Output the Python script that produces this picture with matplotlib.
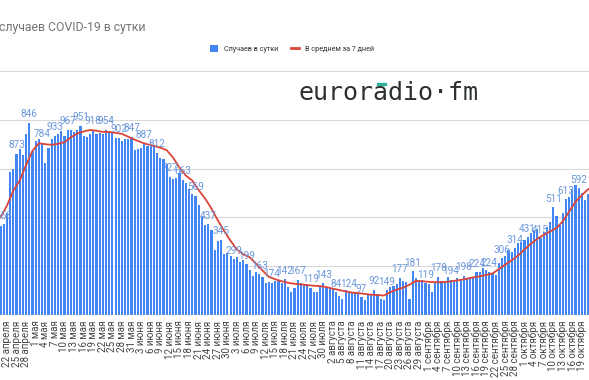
import numpy as np
import pandas as pd
import matplotlib
matplotlib.use("Agg")
import matplotlib.pyplot as plt
from matplotlib.patches import Patch, Rectangle
from matplotlib.lines import Line2D

plt.rcParams['font.family'] = ['Roboto', 'DejaVu Sans']

# daily cases, one value per day starting 20 April
cases = [454, 464, 520, 735, 750, 826, 852, 821, 928, 984,
         841, 893, 903, 882, 780, 857, 903, 918, 928, 943,
         918, 949, 949, 939, 949, 969, 918, 913, 928, 949,
         928, 933, 928, 949, 943, 933, 908, 908, 893, 903,
         903, 913, 846, 852, 857, 877, 867, 867, 867, 831,
         806, 800, 775, 709, 699, 704, 729, 694, 678, 648,
         622, 612, 566, 500, 459, 465, 433, 331, 377, 385,
         311, 316, 301, 286, 296, 270, 280, 260, 230, 199,
         219, 209, 194, 163, 170, 165, 173, 173, 163, 184,
         143, 117, 138, 180, 163, 158, 158, 140, 117, 120,
         143, 163, 140, 138, 133, 117, 97, 82, 128, 115,
         112, 117, 112, 90, 77, 102, 102, 130, 110, 80,
         75, 128, 143, 150, 160, 190, 175, 168, 82, 225,
         189, 168, 178, 163, 158, 117, 168, 195, 172, 168,
         194, 180, 178, 189, 185, 200, 189, 194, 194, 220,
         219, 240, 230, 222, 214, 204, 265, 291, 301, 331,
         321, 342, 367, 372, 385, 398, 418, 430, 439, 393,
         423, 449, 474, 551, 505, 459, 520, 592, 602, 643,
         668, 650, 627, 587, 622]

# 7-day average read every second day
avg_days = np.arange(0, 185, 2)
avg7 = [500, 561, 638, 689, 770, 842, 880, 875, 872, 877,
        885, 910, 930, 940, 948, 944, 938, 938, 933, 928,
        913, 898, 885, 874, 867, 857, 844, 806, 755, 714,
        689, 640, 597, 546, 485, 430, 380, 335, 310, 296,
        262, 228, 195, 183, 173, 165, 160, 157, 153, 150,
        148, 143, 135, 128, 121, 115, 112, 108, 104, 102,
        100, 117, 130, 140, 155, 175, 173, 170, 168, 168,
        170, 175, 180, 186, 193, 198, 205, 213, 235, 258,
        280, 305, 335, 365, 390, 410, 428, 445, 480, 530,
        580, 615, 645]

# data labels shown every 4th day
label_days = list(range(1, 182, 4))
label_text = ['658', '873', '846', '784', '933', '967', '951', '918', '954', '902',
              '847', '887', '812', '727', '663', '569', '437', '345', '299', '199',
              '163', '174', '142', '167', '119', '143', '84', '124', '97', '92',
              '149', '177', '181', '119', '178', '194', '198', '224', '224', '306',
              '314', '431', '415', '511', '613', '592']

months = {4: 'апреля', 5: 'мая', 6: 'июня', 7: 'июля', 8: 'августа',
          9: 'сентября', 10: 'октября'}
dates = pd.date_range('2020-04-20', periods=len(cases))
tick_pos = list(range(2, len(cases), 3))
tick_lab = [f"{dates[i].day} {months[dates[i].month]}" for i in tick_pos]

W, H = 589, 380
fig = plt.figure(figsize=(W / 100, H / 100), dpi=100)
fig.patch.set_facecolor('white')

ymax = 1255
ax_h = ymax * 244 / 1250
ax = fig.add_axes([0, 65 / H, 1, ax_h / H])
x = np.arange(len(cases))
ax.bar(x, cases, width=0.68, color='#4285f4', zorder=2)
ax.plot(avg_days, avg7, color='#db4437', lw=1.3, zorder=3)

for d, t in zip(label_days, label_text):
    ax.annotate(t, (d, cases[d]), xytext=(0, 2.5), textcoords='offset points',
                ha='center', va='bottom', fontsize=7.2, color='#6b97dc', zorder=4)

ax.set_xlim(-0.19, 184.2)
ax.set_ylim(0, ymax)
ax.set_yticks(np.arange(0, 1251, 250))
ax.yaxis.grid(True, color='#d9d9d9', lw=0.8, zorder=0)
ax.set_axisbelow(True)
ax.tick_params(axis='y', left=False, labelleft=False)
ax.set_xticks(tick_pos)
ax.set_xticklabels(tick_lab, rotation=90, fontsize=7, color='#444444')
ax.tick_params(axis='x', length=0, pad=4)
for s in ax.spines.values():
    s.set_visible(False)
ax.axhline(0, color='#9e9e9e', lw=0.8, zorder=2.5)

fig.text(-0.002, 1 - 27 / H, 'случаев COVID-19 в сутки', fontsize=8.8,
         color='#757575', va='center', ha='left')

handles = [Patch(facecolor='#4285f4', edgecolor='none'),
           Line2D([0], [0], color='#db4437', lw=2)]
fig.legend(handles, ['Случаев в сутки', 'В среднем за 7 дней'], loc='center',
           bbox_to_anchor=(292 / W, 1 - 49 / H), ncol=2, frameon=False,
           fontsize=5.2, handlelength=1.1, handleheight=1.1,
           columnspacing=1.8, handletextpad=0.8, labelcolor='#333333')

# logo
fig.text(298 / W, 1 - 93 / H, 'euroradio·fm', fontsize=18,
         family='DejaVu Sans Mono', color='#2b3030', va='center', ha='left')
fig.add_artist(Rectangle((377 / W, 1 - 85 / H), 9 / W, 2 / H,
                         transform=fig.transFigure, color='#2bb39a'))

fig.savefig('out.png', dpi=100)
